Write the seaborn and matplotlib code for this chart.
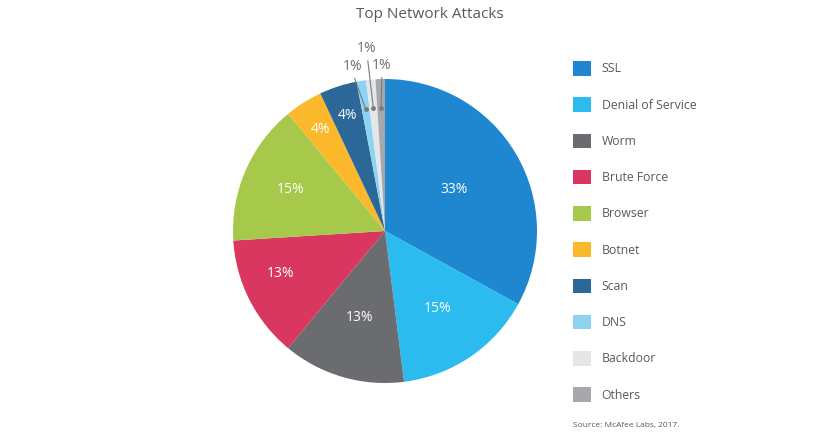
import numpy as np
import matplotlib
matplotlib.use("Agg")
import matplotlib.pyplot as plt
import seaborn as sns

categories = ["SSL", "Denial of Service", "Worm", "Brute Force", "Browser",
              "Botnet", "Scan", "DNS", "Backdoor", "Others"]
values = [33, 15, 13, 13, 15, 4, 4, 1, 1, 1]
colors_hex = ["#1f86d0", "#2bbbef", "#6b6c6f", "#d9375f", "#a6c94b",
              "#fbb82a", "#2b6797", "#8dd3f2", "#e5e6e8", "#a6a8ab"]
title = "Top Network Attacks"
source = "Source: McAfee Labs, 2017."

# label placement (style, not data)
label_radius = [0.53, 0.62, 0.59, 0.74, 0.68, 0.79, 0.80]
label_angle_shift = [0, 0, 0, -5, 0, 0, 0]
small_offsets = {7: (-0.21, 1.085), 8: (-0.118, 1.20), 9: (-0.02, 1.09)}

sns.set_theme(style="white")
plt.rcParams["font.family"] = ["Open Sans", "DejaVu Sans"]
palette = sns.color_palette(colors_hex)

W, H = 828, 433
fig = plt.figure(figsize=(W / 100, H / 100), dpi=100)
cx, cy, r = 385, 231, 152
ax = fig.add_axes([(cx - r) / W, (H - cy - r) / H, 2 * r / W, 2 * r / H])

wedges, _ = ax.pie(values, colors=palette, startangle=90, counterclock=False,
                   radius=1.0, wedgeprops=dict(linewidth=0))
ax.set_xlim(-1, 1)
ax.set_ylim(-1, 1)
ax.set_aspect("equal")
ax.axis("off")

total = sum(values)
cum = np.cumsum([0] + values)
for i, v in enumerate(values):
    mid = 90 - (cum[i] + v / 2) / total * 360
    if i < len(label_radius):
        th = np.deg2rad(mid + label_angle_shift[i])
        rr = label_radius[i]
        ax.text(rr * np.cos(th), rr * np.sin(th), f"{v}%", color="white",
                fontsize=10, ha="center", va="center")
    else:
        th = np.deg2rad(mid)
        px, py = 0.81 * np.cos(th), 0.81 * np.sin(th)
        tx, ty = small_offsets[i]
        ax.plot([px, tx + (px - tx) * 0.12], [py, ty - 0.08],
                color="#7a7b7e", lw=0.8, clip_on=False)
        ax.plot([px], [py], marker="o", ms=2.5, color="#7a7b7e", clip_on=False)
        ax.text(tx, ty, f"{v}%", color="#6d6e71", fontsize=10,
                ha="center", va="center", clip_on=False)

fig.text(430 / W, 1 - 15 / H, title, ha="center", va="center",
         fontsize=11, color="#555a60")

leg = fig.legend(wedges, categories, loc="upper left",
                 bbox_to_anchor=(573 / W, 1 - 61 / H), frameon=False,
                 fontsize=8.8, labelspacing=1.78, handlelength=1.45,
                 handleheight=1.45, handletextpad=0.9, borderpad=0,
                 borderaxespad=0)
for t in leg.get_texts():
    t.set_color("#555a60")

fig.text(573 / W, 1 - 426 / H, source, ha="left", va="center",
         fontsize=6, color="#555a60")

fig.savefig("out.png", dpi=100, facecolor="white")
